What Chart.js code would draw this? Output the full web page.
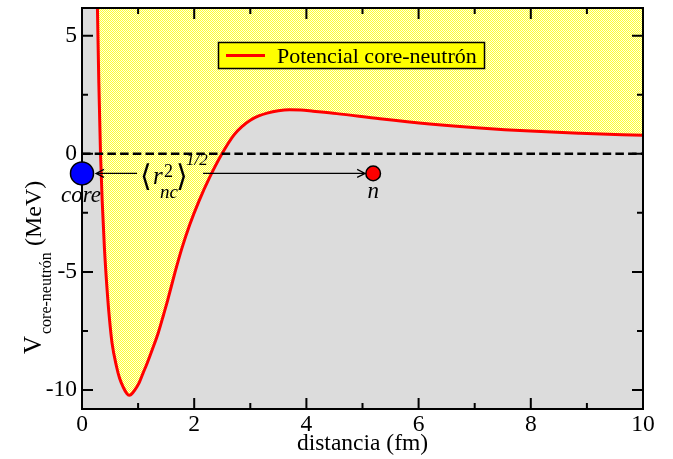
<!DOCTYPE html>
<html><head><meta charset="utf-8">
<script src="https://cdn.jsdelivr.net/npm/chart.js@4.4.1/dist/chart.umd.min.js"></script>
<style>html,body{margin:0;padding:0;background:#fff;} canvas{display:block;}</style>
</head><body>
<canvas id="c" width="673" height="459"></canvas>
<script>
// ---- data ----
const distance  = [0.275, 0.30, 0.33, 0.36, 0.40, 0.455, 0.49, 0.535, 0.615, 0.67, 0.74, 0.80, 0.84, 0.87, 0.94, 1.02, 1.085, 1.14, 1.25, 1.36, 1.455, 1.53, 1.66, 1.78, 1.92, 2.085, 2.275, 2.495, 2.71, 2.85, 3.0, 3.15, 3.3, 3.5, 3.7, 3.9, 4.12, 4.54, 5.31, 6.2, 7.09, 7.99, 8.88, 10.0];
const potential = [6.2, 3.0, 0, -2, -4, -6, -7, -8, -9, -9.5, -9.9, -10.15, -10.22, -10.2, -10.0, -9.68, -9.3, -8.99, -8.3, -7.57, -6.8, -6.17, -5, -4, -3, -2, -1, 0, 0.80, 1.15, 1.42, 1.6, 1.72, 1.82, 1.86, 1.85, 1.80, 1.70, 1.48, 1.26, 1.09, 0.96, 0.87, 0.78];
const zeroLineX = [0, 10];
const zeroLineY = [0, 0];
const corePos = [0, -0.83];
const neutronPos = [5.19, -0.83];
const xTickValues = [0, 2, 4, 6, 8, 10];
const xTickLabels = ['0', '2', '4', '6', '8', '10'];
const xMinorTicks = [1, 3, 5, 7, 9];
const yTickValues = [-10, -5, 0, 5];
const yTickLabels = ['-10', '-5', '0', '5'];
const yMinorTicks = [-7.5, -2.5, 2.5];
const seriesLabel = 'Potencial core-neutrón';
const xTitle = 'distancia (fm)';
const yTitleMain = 'V';
const yTitleSub = 'core-neutrón';
const yTitleUnit = '(MeV)';

const SERIF = "'Liberation Serif', 'Times New Roman', serif";
const ctx = document.getElementById('c').getContext('2d');

function makePattern() {
  const c = document.createElement('canvas');
  c.width = 2; c.height = 2;
  const g = c.getContext('2d');
  g.fillStyle = '#ffff30'; g.fillRect(0, 0, 2, 2);
  g.fillStyle = '#ffffe0'; g.fillRect(1, 0, 1, 1); g.fillRect(0, 1, 1, 1);
  return ctx.createPattern(c, 'repeat');
}
const yellowPattern = makePattern();

function drawFrame(chart) {
  const a = chart.chartArea, c = chart.ctx;
  const xs = chart.scales.x, ys = chart.scales.y;
  c.save();
  c.strokeStyle = '#000'; c.lineWidth = 2;
  c.strokeRect(a.left, a.top, a.right - a.left, a.bottom - a.top);
  c.beginPath();
  const tick = (vals, len) => {
    vals.forEach(v => {
      const px = xs.getPixelForValue(v);
      c.moveTo(px, a.bottom); c.lineTo(px, a.bottom - len);
      c.moveTo(px, a.top); c.lineTo(px, a.top + len);
    });
  };
  const ytick = (vals, len) => {
    vals.forEach(v => {
      const py = ys.getPixelForValue(v);
      c.moveTo(a.left, py); c.lineTo(a.left + len, py);
      c.moveTo(a.right, py); c.lineTo(a.right - len, py);
    });
  };
  tick(xTickValues, 11); tick(xMinorTicks, 6);
  ytick(yTickValues, 11); ytick(yMinorTicks, 6);
  c.stroke();
  c.restore();
}

const decor = {
  id: 'decor',
  beforeDraw(chart) {
    const a = chart.chartArea, c = chart.ctx;
    c.save(); c.fillStyle = '#dcdcdc';
    c.fillRect(a.left, a.top, a.right - a.left, a.bottom - a.top);
    c.restore();
  },
  afterDatasetDraw(chart, args) {
    if (args.index === 1) drawFrame(chart);
  },
  afterDraw(chart) {
    const c = chart.ctx, xs = chart.scales.x, ys = chart.scales.y;
    c.save();
    c.fillStyle = '#000'; c.strokeStyle = '#000';
    // arrow between core and neutron
    const ay = ys.getPixelForValue(corePos[1]);
    const x0 = xs.getPixelForValue(corePos[0]) + 14;
    const x1 = xs.getPixelForValue(neutronPos[0]) - 8;
    c.lineWidth = 1.2;
    c.beginPath();
    c.moveTo(x0, ay); c.lineTo(137, ay);
    c.moveTo(203, ay); c.lineTo(x1, ay);
    c.moveTo(x0 + 8, ay - 4); c.lineTo(x0, ay); c.lineTo(x0 + 8, ay + 4);
    c.moveTo(x1 - 8, ay - 4); c.lineTo(x1, ay); c.lineTo(x1 - 8, ay + 4);
    c.stroke();
    // label <r^2_nc>^{1/2}
    c.textBaseline = 'alphabetic'; c.textAlign = 'left';
    c.font = "30px 'DejaVu Serif', " + SERIF;
    c.fillText('\u27E8', 140, ay + 13);
    c.font = 'italic 25px ' + SERIF;
    c.fillText('r', 153, ay + 11);
    c.font = '18px ' + SERIF;
    c.fillText('2', 164, ay + 4);
    c.font = 'italic 19px ' + SERIF;
    c.fillText('nc', 160, ay + 25);
    c.font = "30px 'DejaVu Serif', " + SERIF;
    c.fillText('\u27E9', 176, ay + 13);
    c.font = 'italic 17px ' + SERIF;
    c.fillText('1/2', 186, ay - 8);
    // core / n labels
    c.textAlign = 'center';
    c.font = 'italic 23px ' + SERIF;
    c.fillText('core', xs.getPixelForValue(corePos[0]) - 1, ay + 29);
    c.fillText('n', xs.getPixelForValue(neutronPos[0]), ay + 25);
    // legend
    c.fillStyle = '#ffff00';
    c.fillRect(218, 42, 267, 27);
    c.lineWidth = 1.5; c.strokeRect(218.5, 42.5, 266, 26);
    c.strokeStyle = '#ff0000'; c.lineWidth = 3;
    c.beginPath(); c.moveTo(226, 55.5); c.lineTo(265, 55.5); c.stroke();
    c.fillStyle = '#000'; c.textAlign = 'left';
    c.font = '22px ' + SERIF;
    c.fillText(seriesLabel, 277, 62.5);
    // x title
    c.textAlign = 'center';
    c.font = '23.5px ' + SERIF;
    c.fillText(xTitle, (chart.chartArea.left + chart.chartArea.right) / 2, 450);
    // y title (rotated)
    c.translate(40.5, 354);
    c.rotate(-Math.PI / 2);
    c.textAlign = 'left';
    c.font = '25px ' + SERIF;
    c.fillText(yTitleMain, 0, 0);
    c.font = '16px ' + SERIF;
    c.fillText(yTitleSub, 20, 10);
    c.font = '24px ' + SERIF;
    c.fillText(yTitleUnit, 108, 0);
    c.restore();
  }
};

new Chart(ctx, {
  type: 'scatter',
  data: {
    datasets: [
      { label: seriesLabel, data: distance.map((x, i) => ({ x, y: potential[i] })),
        showLine: true, borderColor: '#ff0000', borderWidth: 3, pointRadius: 0,
        fill: 'end', backgroundColor: yellowPattern, cubicInterpolationMode: 'monotone', order: 3 },
      { label: 'zero', data: zeroLineX.map((x, i) => ({ x, y: zeroLineY[i] })),
        showLine: true, borderColor: '#000', borderWidth: 2.5, borderDash: [8.5, 4.2],
        pointRadius: 0, fill: false, order: 2 },
      { label: 'core', data: [{ x: corePos[0], y: corePos[1] }], pointRadius: 11.5,
        backgroundColor: '#0000ff', borderColor: '#000', borderWidth: 1.5, clip: false, order: 1 },
      { label: 'n', data: [{ x: neutronPos[0], y: neutronPos[1] }], pointRadius: 7.3,
        backgroundColor: '#ff0000', borderColor: '#000', borderWidth: 1.5, clip: false, order: 1 }
    ]
  },
  options: {
    responsive: false,
    animation: false,
    devicePixelRatio: 1,
    events: [],
    layout: { autoPadding: false, padding: { left: 0, top: 8, right: 30, bottom: 0 } },
    plugins: { legend: { display: false }, tooltip: { enabled: false } },
    scales: {
      x: {
        type: 'linear', min: 0, max: 10,
        grid: { display: false, drawTicks: false },
        border: { display: false },
        afterBuildTicks: s => { s.ticks = xTickValues.map(v => ({ value: v })); },
        afterFit: s => { s.height = 50; s.paddingLeft = 0; s.paddingRight = 0; },
        ticks: { padding: 2, color: '#000', maxRotation: 0, autoSkip: false,
          font: { family: SERIF, size: 23.5 },
          callback: v => xTickLabels[xTickValues.indexOf(v)] }
      },
      y: {
        type: 'linear', min: -10.8, max: 6.17,
        grid: { display: false, drawTicks: false },
        border: { display: false },
        afterBuildTicks: s => { s.ticks = yTickValues.map(v => ({ value: v })); },
        afterFit: s => { s.width = 82; s.paddingTop = 0; s.paddingBottom = 0; },
        ticks: { padding: 5, color: '#000', autoSkip: false,
          font: { family: SERIF, size: 23.5 },
          callback: v => yTickLabels[yTickValues.indexOf(v)] }
      }
    }
  },
  plugins: [decor]
});
</script>
</body></html>
